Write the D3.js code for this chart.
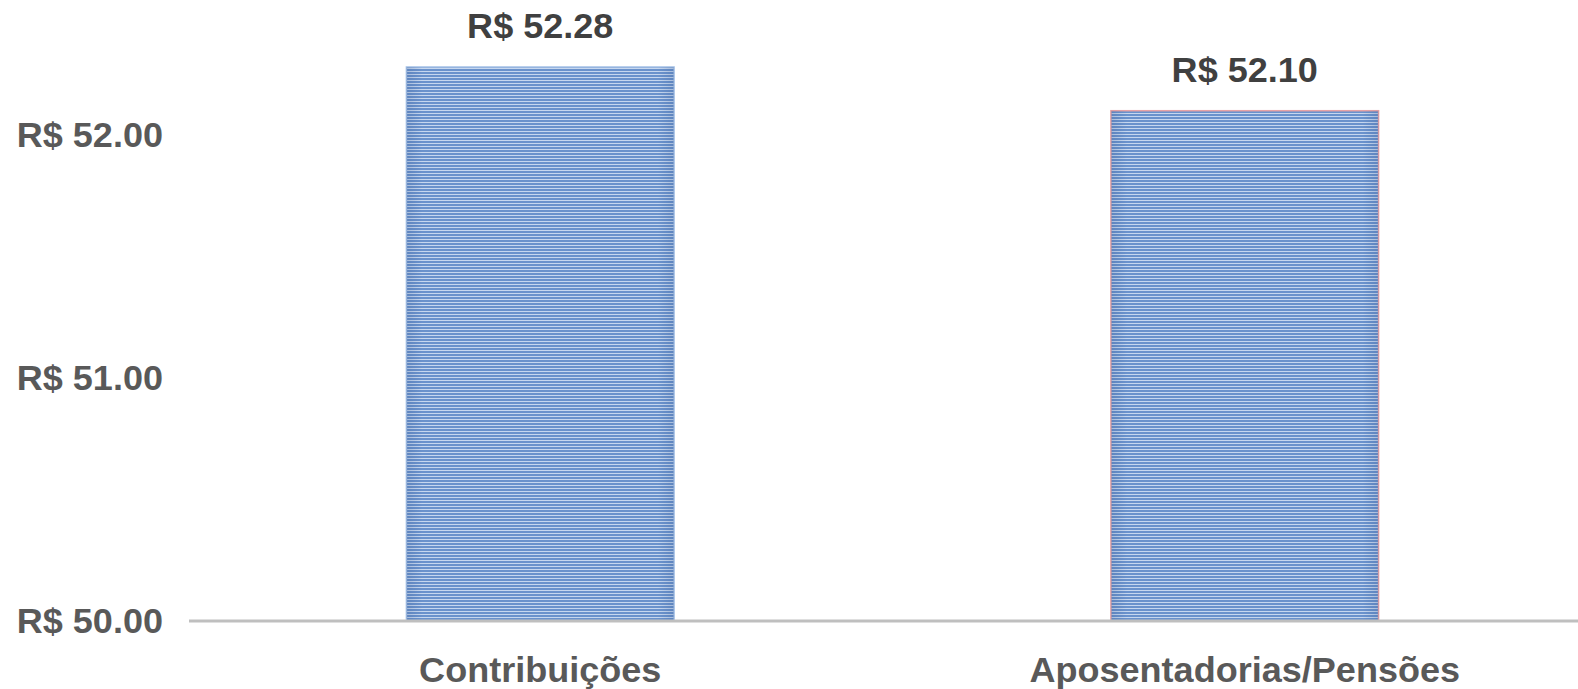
<!DOCTYPE html>
<html>
<head>
<meta charset="utf-8">
<script src="https://cdn.jsdelivr.net/npm/d3@7"></script>
<style>
  body { margin: 0; background: #fff; }
  svg { display: block; }
  text { font-family: "Liberation Sans", Arial, sans-serif; font-weight: bold; }
</style>
</head>
<body>
<svg id="chart"></svg>
<script>
width = 1578;
height = 689;

// data
var categories = ['Contribuições', 'Aposentadorias/Pensões'];
var values = [52.28, 52.10];
var yTicks = [50, 51, 52];
var borders = ['#a9c4e8', '#e7a3a6'];

var fontSize = 35;
var stretch = 1.03;

var svg = d3.select('#chart')
	.attr('width', width)
	.attr('height', height);

var x = d3.scaleBand()
	.domain(categories)
	.range([188, 1597])
	.paddingInner(0.62)
	.paddingOuter(0.31);

var y = d3.scaleLinear()
	.domain([50, 52.5])
	.range([621, 621 - 2.5 * 243]);

var fmt = d => 'R$ ' + d3.format('.2f')(d);

// stripe pattern + edge shading
var defs = svg.append('defs');
var pat = defs.append('pattern')
	.attr('id', 'stripes')
	.attr('patternUnits', 'userSpaceOnUse')
	.attr('width', 6)
	.attr('height', 3);
pat.append('rect').attr('width', 6).attr('height', 3).attr('fill', '#c6d7ef');
pat.append('rect').attr('width', 6).attr('height', 2).attr('fill', '#6a92cc');

var grad = defs.append('linearGradient')
	.attr('id', 'edges')
	.attr('x1', 0).attr('x2', 1).attr('y1', 0).attr('y2', 0);
[[0, 0.2], [0.06, 0], [0.94, 0], [1, 0.2]].forEach(function(s){
	grad.append('stop')
		.attr('offset', s[0])
		.attr('stop-color', '#2d4f8a')
		.attr('stop-opacity', s[1]);
});

// bars
var bars = svg.append('g');
bars.selectAll('rect.bar')
	.data(categories)
	.join('rect')
		.attr('class', 'bar')
		.attr('x', d => x(d))
		.attr('y', (d, i) => y(values[i]))
		.attr('width', x.bandwidth())
		.attr('height', (d, i) => y(50) - y(values[i]))
		.attr('fill', 'url(#stripes)')
		.attr('stroke', (d, i) => borders[i])
		.attr('stroke-width', 1.5);
bars.selectAll('rect.shade')
	.data(categories)
	.join('rect')
		.attr('class', 'shade')
		.attr('x', d => x(d))
		.attr('y', (d, i) => y(values[i]))
		.attr('width', x.bandwidth())
		.attr('height', (d, i) => y(50) - y(values[i]))
		.attr('fill', 'url(#edges)');

// axis line
svg.append('line')
	.attr('x1', 189)
	.attr('x2', width)
	.attr('y1', y(50))
	.attr('y2', y(50))
	.attr('stroke', '#bfbfbf')
	.attr('stroke-width', 3);

// y tick labels
svg.append('g')
	.selectAll('text')
	.data(yTicks)
	.join('text')
		.attr('transform', d => `translate(163, ${y(d) + 12}) scale(${stretch}, 1)`)
		.attr('text-anchor', 'end')
		.attr('font-size', fontSize)
		.attr('fill', '#595959')
		.text(fmt);

// category labels
svg.append('g')
	.selectAll('text')
	.data(categories)
	.join('text')
		.attr('transform', d => `translate(${x(d) + x.bandwidth() / 2}, 682) scale(${stretch}, 1)`)
		.attr('text-anchor', 'middle')
		.attr('font-size', fontSize)
		.attr('fill', '#595959')
		.text(d => d);

// value labels
svg.append('g')
	.selectAll('text')
	.data(categories)
	.join('text')
		.attr('transform', (d, i) => `translate(${x(d) + x.bandwidth() / 2}, ${y(values[i]) - 29}) scale(${stretch}, 1)`)
		.attr('text-anchor', 'middle')
		.attr('font-size', fontSize)
		.attr('fill', '#404040')
		.text((d, i) => fmt(values[i]));
</script>
</body>
</html>
